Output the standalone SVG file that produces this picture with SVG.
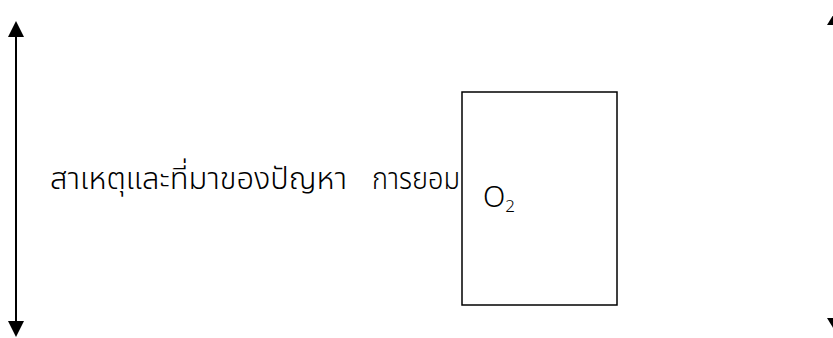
<svg xmlns="http://www.w3.org/2000/svg" width="833" height="338" viewBox="0 0 833 338">
<style>
.ln{stroke:#000;stroke-width:2;fill:none}
.hd{fill:#000}
.t{font-family:"Noto Sans","Noto Sans Thai","DejaVu Sans",sans-serif;fill:#000}
.th{font-size:31px;font-weight:300}
</style>
<rect width="833" height="338" fill="#fff"/>
<g id="connectors">
<line class="ln" x1="16" y1="34" x2="16" y2="324"/>
<polygon class="hd" points="16,21 8,37 24,37"/>
<polygon class="hd" points="16,337 8,321 24,321"/>
<line class="ln" x1="835" y1="22" x2="835" y2="320"/>
<polygon class="hd" points="835,12 827,25 843,25"/>
<polygon class="hd" points="835,331 827,318 843,318"/>
</g>
<g id="label">
<text class="t th" x="50" y="189" textLength="297" lengthAdjust="spacingAndGlyphs">สาเหตุและที่มาของปัญหา</text>
<text class="t th" x="372" y="189" textLength="88" lengthAdjust="spacingAndGlyphs">การยอม</text>
</g>
<g id="box">
<rect x="462" y="92" width="155" height="213" fill="none" stroke="#000" stroke-width="1.5"/>
<text class="t" x="483" y="207" font-size="29" font-weight="300">O<tspan font-size="17" dy="5">2</tspan></text>
</g>
</svg>
